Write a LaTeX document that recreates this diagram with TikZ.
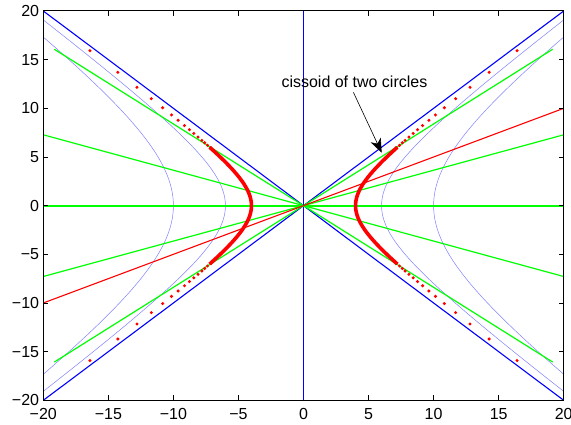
\documentclass[tikz,border=0pt]{standalone}
\usepackage{fontspec}
\setmainfont{Liberation Sans}
\usetikzlibrary{arrows.meta}
\definecolor{mblue}{rgb}{0,0,1}
\definecolor{mgreen}{rgb}{0,1,0}
\definecolor{mred}{rgb}{1,0,0}
\definecolor{mlight}{rgb}{0.5,0.5,1}
\tikzset{
  axisbox/.style={black, line width=1pt},
  tickmark/.style={black, line width=0.7pt},
  bluesolid/.style={draw=mblue, line width=1.1pt},
  bluevert/.style={draw=mblue, line width=1.4pt},
  bluethin/.style={draw=mlight, line width=0.5pt},
  greenray/.style={draw=mgreen, line width=1.2pt},
  greenaxis/.style={draw=mgreen, line width=2.2pt},
  redline/.style={draw=mred, line width=1.1pt},
  redcurve/.style={draw=mred, line width=3.6pt},
  ticklabel/.style={inner sep=0pt},
  notearrow/.style={black, line width=0.6pt, -{Stealth[length=14pt,width=11pt,inset=4pt]}}
}
\begin{document}
\begin{tikzpicture}[x=1pt,y=-1pt, font=\fontsize{16}{19}\selectfont]
\useasboundingbox (0,0) rectangle (571,425);
\begin{scope}[shift={(303.5,205.65)}, x=13.01pt, y=9.7325pt]
  \begin{scope}
    \clip (-20,-20) rectangle (20,20);
    % blue asymptotes and vertical axis
    \draw[bluesolid] (-20,-20) -- (20,20);
    \draw[bluesolid] (-20,20) -- (20,-20);
    \draw[bluevert] (0,-20) -- (0,20);
    % thin blue hyperbolas x^2-y^2=36 and x^2-y^2=100
    \foreach \aa/\ym in {36/19.08, 100/17.32} {
      \draw[bluethin] plot[domain=-\ym:\ym, samples=120, smooth] ({sqrt(\aa+\x*\x)},\x);
      \draw[bluethin] plot[domain=-\ym:\ym, samples=120, smooth] ({-sqrt(\aa+\x*\x)},\x);
    }
    % green rays
    \draw[greenaxis] (-25,0) -- (25,0);
    \foreach \ang in {20,40,-20,-40}
      \draw[greenray] ({-25*cos(\ang)},{-25*sin(\ang)}) -- ({25*cos(\ang)},{25*sin(\ang)});
    % red line
    \draw[redline] (-20,-10) -- (20,10);
    % thick red curve
    \draw[redcurve] plot[domain=-6:6, samples=60, smooth] ({sqrt(16+\x*\x)},\x);
    \draw[redcurve] plot[domain=-6:6, samples=60, smooth] ({-sqrt(16+\x*\x)},\x);
    % red dots
    \foreach \yy in {15.92,13.70,12.16,10.99,10.06,9.32,8.77,8.23,7.80,7.42,7.05,6.71,6.46,6.20,5.92,5.68,5.48}
      \foreach \sx in {1,-1}
        \foreach \sy in {1,-1}
          \fill[mred] ({\sx*sqrt(16+\yy*\yy)},{\sy*\yy}) circle[radius=1.7pt];
  \end{scope}
  % axes box
  \draw[axisbox] (-20,-20) rectangle (20,20);
  % ticks
  \foreach \v in {-15,-10,-5,5,10,15} {
    \draw[tickmark] (\v,-20) -- ++(0pt,5pt);
    \draw[tickmark] (\v,20) -- ++(0pt,-5pt);
  }
  \foreach \v in {-15,-10,-5,0,5,10,15} {
    \draw[tickmark] (-20,\v) -- ++(5pt,0pt);
    \draw[tickmark] (20,\v) -- ++(-5pt,0pt);
  }
  % tick labels
  \foreach \v/\t [count=\i] in {-20/−20,-15/−15,-10/−10,-5/−5,0/0,5/5,10/10,15/15,20/20} {
    \node[ticklabel, anchor=east] (yl\i) at ([xshift=-4pt]-20,\v) {\t};
    \node[ticklabel, anchor=north] (xl\i) at ([yshift=-8pt]\v,-20) {\t};
  }
\end{scope}
% annotation
\node[anchor=base west, inner sep=0pt] (lbl) at (281.3,87.5) {cissoid of two circles};
\coordinate (astart) at ([xshift=-1pt,yshift=-4.5pt]lbl.south);
\coordinate (tip) at (381.7,152.7);
\draw[notearrow] (astart) -- (tip);
\end{tikzpicture}
\end{document}
